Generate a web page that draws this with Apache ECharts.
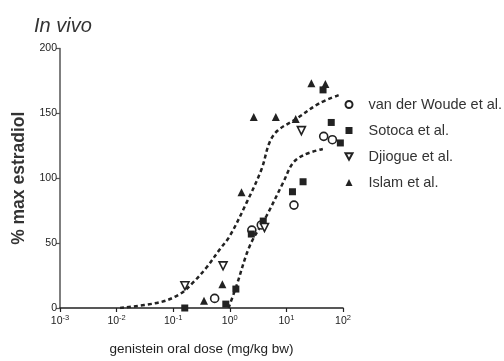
<!DOCTYPE html>
<html>
<head>
<meta charset="utf-8">
<script src="https://cdn.jsdelivr.net/npm/echarts@6/dist/echarts.min.js"></script>
<style>
  html, body { margin: 0; padding: 0; background: #fff; }
  #chart { width: 504px; height: 361px; }
</style>
</head>
<body>
<div id="chart"></div>
<script>
// Genistein oral dose (mg/kg bw) vs. % of maximal estradiol response
const vdwDose   = [0.54, 2.45, 3.6, 13.6, 45.6, 64.9];
const vdwEffect = [7.4, 60, 64, 79.3, 132.3, 129.7];

const sotocaDose   = [0.16, 0.85, 1.28, 2.4, 3.9, 12.8, 19.7, 44.4, 62, 89.8];
const sotocaEffect = [0, 3, 14.6, 57, 67, 89.6, 97.3, 168.1, 143, 127.2];

const djiogueDose   = [0.161, 0.76, 4.1, 18.4];
const djiogueEffect = [17.1, 32.5, 62, 136.7];

const islamDose   = [0.35, 0.74, 1.61, 2.65, 6.5, 14.6, 27.6, 48.8];
const islamEffect = [5.6, 18.4, 89.3, 147.2, 147.2, 145.6, 173.3, 172.7];

// fitted dose-response curves
const fitUpperDose   = [0.0115, 0.058, 0.131, 0.225, 0.387, 0.667, 1.0, 1.97, 3.62, 5.08, 7.1, 14.0, 38.7, 87];
const fitUpperEffect = [0, 4.4, 10.7, 19.7, 31.2, 45.3, 55.5, 81, 106.7, 128, 137, 145, 157.9, 164.3];

const fitLowerDose   = [0.95, 1.31, 2.25, 4.44, 8.73, 13.1, 21, 44];
const fitLowerEffect = [0, 17, 47.8, 70.9, 96.5, 111.9, 118.2, 122.6];

const xTicks = [0.001, 0.01, 0.1, 1, 10, 100];
const yTicks = [0, 50, 100, 150, 200];

const seriesNames = ['van der Woude et al.', 'Sotoca et al.', 'Djiogue et al.', 'Islam et al.'];

const pairs = (xs, ys) => xs.map((x, i) => [x, ys[i]]);
const FONT = '"Liberation Sans", Arial, sans-serif';
const INK = '#222';

const chart = echarts.init(document.getElementById('chart'), null, { renderer: 'canvas' });

const markerSeries = (name, xs, ys, symbol, size, hollow) => ({
  name, type: 'scatter', data: pairs(xs, ys), symbol, symbolSize: size, z: 5,
  itemStyle: hollow
    ? { color: '#fff', borderColor: INK, borderWidth: 1.6, opacity: 1 }
    : { color: INK, borderWidth: 0, opacity: 1 }
});

const fitSeries = (xs, ys) => ({
  type: 'line', data: pairs(xs, ys), smooth: 0.35, symbol: 'none', silent: true, z: 3,
  lineStyle: { color: INK, width: 2.5, type: [4, 3] }
});

chart.setOption({
  animation: false,
  backgroundColor: '#fff',
  title: {
    text: 'In vivo', left: 29, top: 11,
    textStyle: { fontFamily: FONT, fontStyle: 'italic', fontWeight: 'normal', fontSize: 20, color: '#333' }
  },
  grid: { left: 60, right: 161, top: 48.5, bottom: 52, containLabel: false },
  legend: {
    data: seriesNames, orient: 'vertical', left: 339.5, top: 92,
    itemWidth: 7, itemHeight: 7, itemGap: 11,
    textStyle: { fontFamily: FONT, fontSize: 14.5, color: '#333', lineHeight: 14, padding: [0, 0, 0, 11] }
  },
  xAxis: {
    type: 'log', logBase: 10, min: xTicks[0], max: xTicks[xTicks.length - 1],
    name: 'genistein oral dose (mg/kg bw)', nameLocation: 'middle', nameGap: 34,
    nameTextStyle: { fontFamily: FONT, fontSize: 13.5, color: INK },
    axisLine: { onZero: false, lineStyle: { color: INK, width: 1.5 } },
    axisTick: { show: true, length: 4, inside: false, lineStyle: { color: INK, width: 1.2 } },
    minorTick: { show: false },
    splitLine: { show: false },
    axisLabel: {
      margin: 6, color: INK, fontFamily: FONT,
      formatter: v => '{b|10}{s|' + Math.round(Math.log10(v)) + '}',
      rich: {
        b: { fontFamily: FONT, fontSize: 10.5, color: INK, lineHeight: 14 },
        s: { fontFamily: FONT, fontSize: 7.5, color: INK, verticalAlign: 'top', lineHeight: 8 }
      }
    }
  },
  yAxis: {
    type: 'value', min: yTicks[0], max: yTicks[yTicks.length - 1], interval: 50,
    name: '% max estradiol', nameLocation: 'middle', nameGap: 31, nameRotate: 90,
    nameTextStyle: { fontFamily: FONT, fontSize: 17.5, fontWeight: 'bold', color: '#333' },
    axisLine: { show: true, lineStyle: { color: '#555', width: 1.5 } },
    axisTick: { show: true, length: 4, inside: false, lineStyle: { color: '#555', width: 1.2 } },
    splitLine: { show: false },
    axisLabel: { margin: 3, fontFamily: FONT, fontSize: 10.5, color: INK }
  },
  series: [
    fitSeries(fitUpperDose, fitUpperEffect),
    fitSeries(fitLowerDose, fitLowerEffect),
    markerSeries(seriesNames[0], vdwDose, vdwEffect, 'circle', 8, true),
    markerSeries(seriesNames[1], sotocaDose, sotocaEffect, 'rect', 7, false),
    markerSeries(seriesNames[2], djiogueDose, djiogueEffect, 'path://M0,0L10,0L5,9Z', 8, true),
    markerSeries(seriesNames[3], islamDose, islamEffect, 'triangle', 8, false)
  ]
});
</script>
</body>
</html>
